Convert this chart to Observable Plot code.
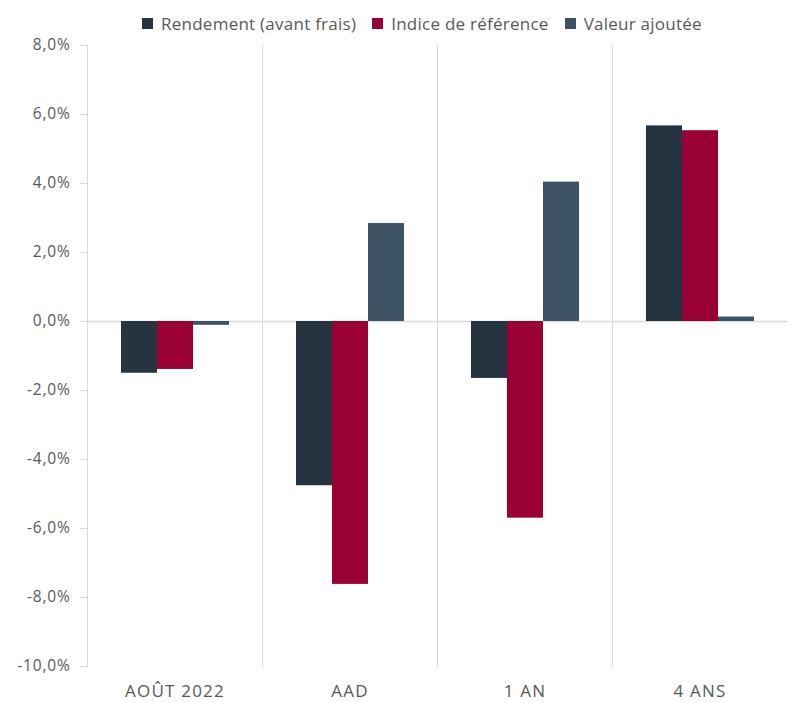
<!DOCTYPE html>
<html><head><meta charset="utf-8">
<script src="https://cdn.jsdelivr.net/npm/d3@7"></script>
<script src="https://cdn.jsdelivr.net/npm/@observablehq/plot@0.6"></script>
<style>
body{margin:0;background:#fff;}
#legend{display:flex;justify-content:flex-start;align-items:center;height:44px;padding-left:142px;padding-top:2px;box-sizing:border-box;font-family:"Open Sans",sans-serif;font-size:17px;letter-spacing:0.25px;color:#595959;}
.item{display:flex;align-items:center;margin-right:16px;white-space:nowrap;}
.sw{width:11px;height:11px;margin-right:8px;flex:none;}
g[aria-label="y-axis tick label"] text{letter-spacing:0.8px;}
g[aria-label="fx-axis tick label"] text{letter-spacing:1.2px;}
</style></head><body>
<div id="legend"></div><div id="chart"></div>
<script>
const categories = ["AOÛT 2022", "AAD", "1 AN", "4 ANS"];
const series = ["Rendement (avant frais)", "Indice de référence", "Valeur ajoutée"];
const rendement = [-1.5, -4.76, -1.65, 5.67];
const indice = [-1.39, -7.62, -5.7, 5.53];
const valeur = [-0.11, 2.84, 4.04, 0.13];
const colors = ["#263340", "#990033", "#3e5266"];
const yTicks = [-10, -8, -6, -4, -2, 0, 2, 4, 6, 8];

const values = [rendement, indice, valeur];
const data = [];
categories.forEach((c, i) => series.forEach((s, j) => data.push({category: c, series: s, value: values[j][i]})));

const legend = document.getElementById("legend");
series.forEach((s, j) => {
  const it = document.createElement("div"); it.className = "item";
  const sw = document.createElement("div"); sw.className = "sw"; sw.style.background = colors[j];
  const t = document.createElement("span"); t.textContent = s;
  it.appendChild(sw); it.appendChild(t); legend.appendChild(it);
});

const fmt = d => d.toFixed(1).replace(".", ",") + "%";

const chart = Plot.plot({
  width: 788,
  height: 658,
  marginTop: 1,
  marginBottom: 36,
  marginLeft: 87,
  marginRight: 1,
  style: {fontFamily: "'Open Sans', sans-serif", fontSize: "15px", color: "#595959", background: "#fff", overflow: "visible"},
  fx: {domain: categories, padding: 0, label: null},
  x: {domain: series, paddingInner: 0, paddingOuter: 0.93, axis: null},
  y: {domain: [-10, 8], label: null},
  color: {domain: series, range: colors},
  marks: [
    Plot.frame({anchor: "left", stroke: "#d9d9d9", strokeOpacity: 1}),
    Plot.ruleY([0], {stroke: "#d9d9d9", strokeWidth: 1.5}),
    Plot.axisY({ticks: yTicks, tickFormat: fmt, tickSize: 7, tickPadding: 10, stroke: "#d9d9d9", strokeOpacity: 1, fill: "#595959", fontSize: 15.5, label: null}),
    Plot.axisFx({anchor: "bottom", tickSize: 0, tickPadding: 18, fontSize: 17, fill: "#595959", label: null}),
    Plot.barY(data, {fx: "category", x: "series", y: "value", fill: "series"})
  ]
});
document.getElementById("chart").appendChild(chart);
</script>
</body></html>
